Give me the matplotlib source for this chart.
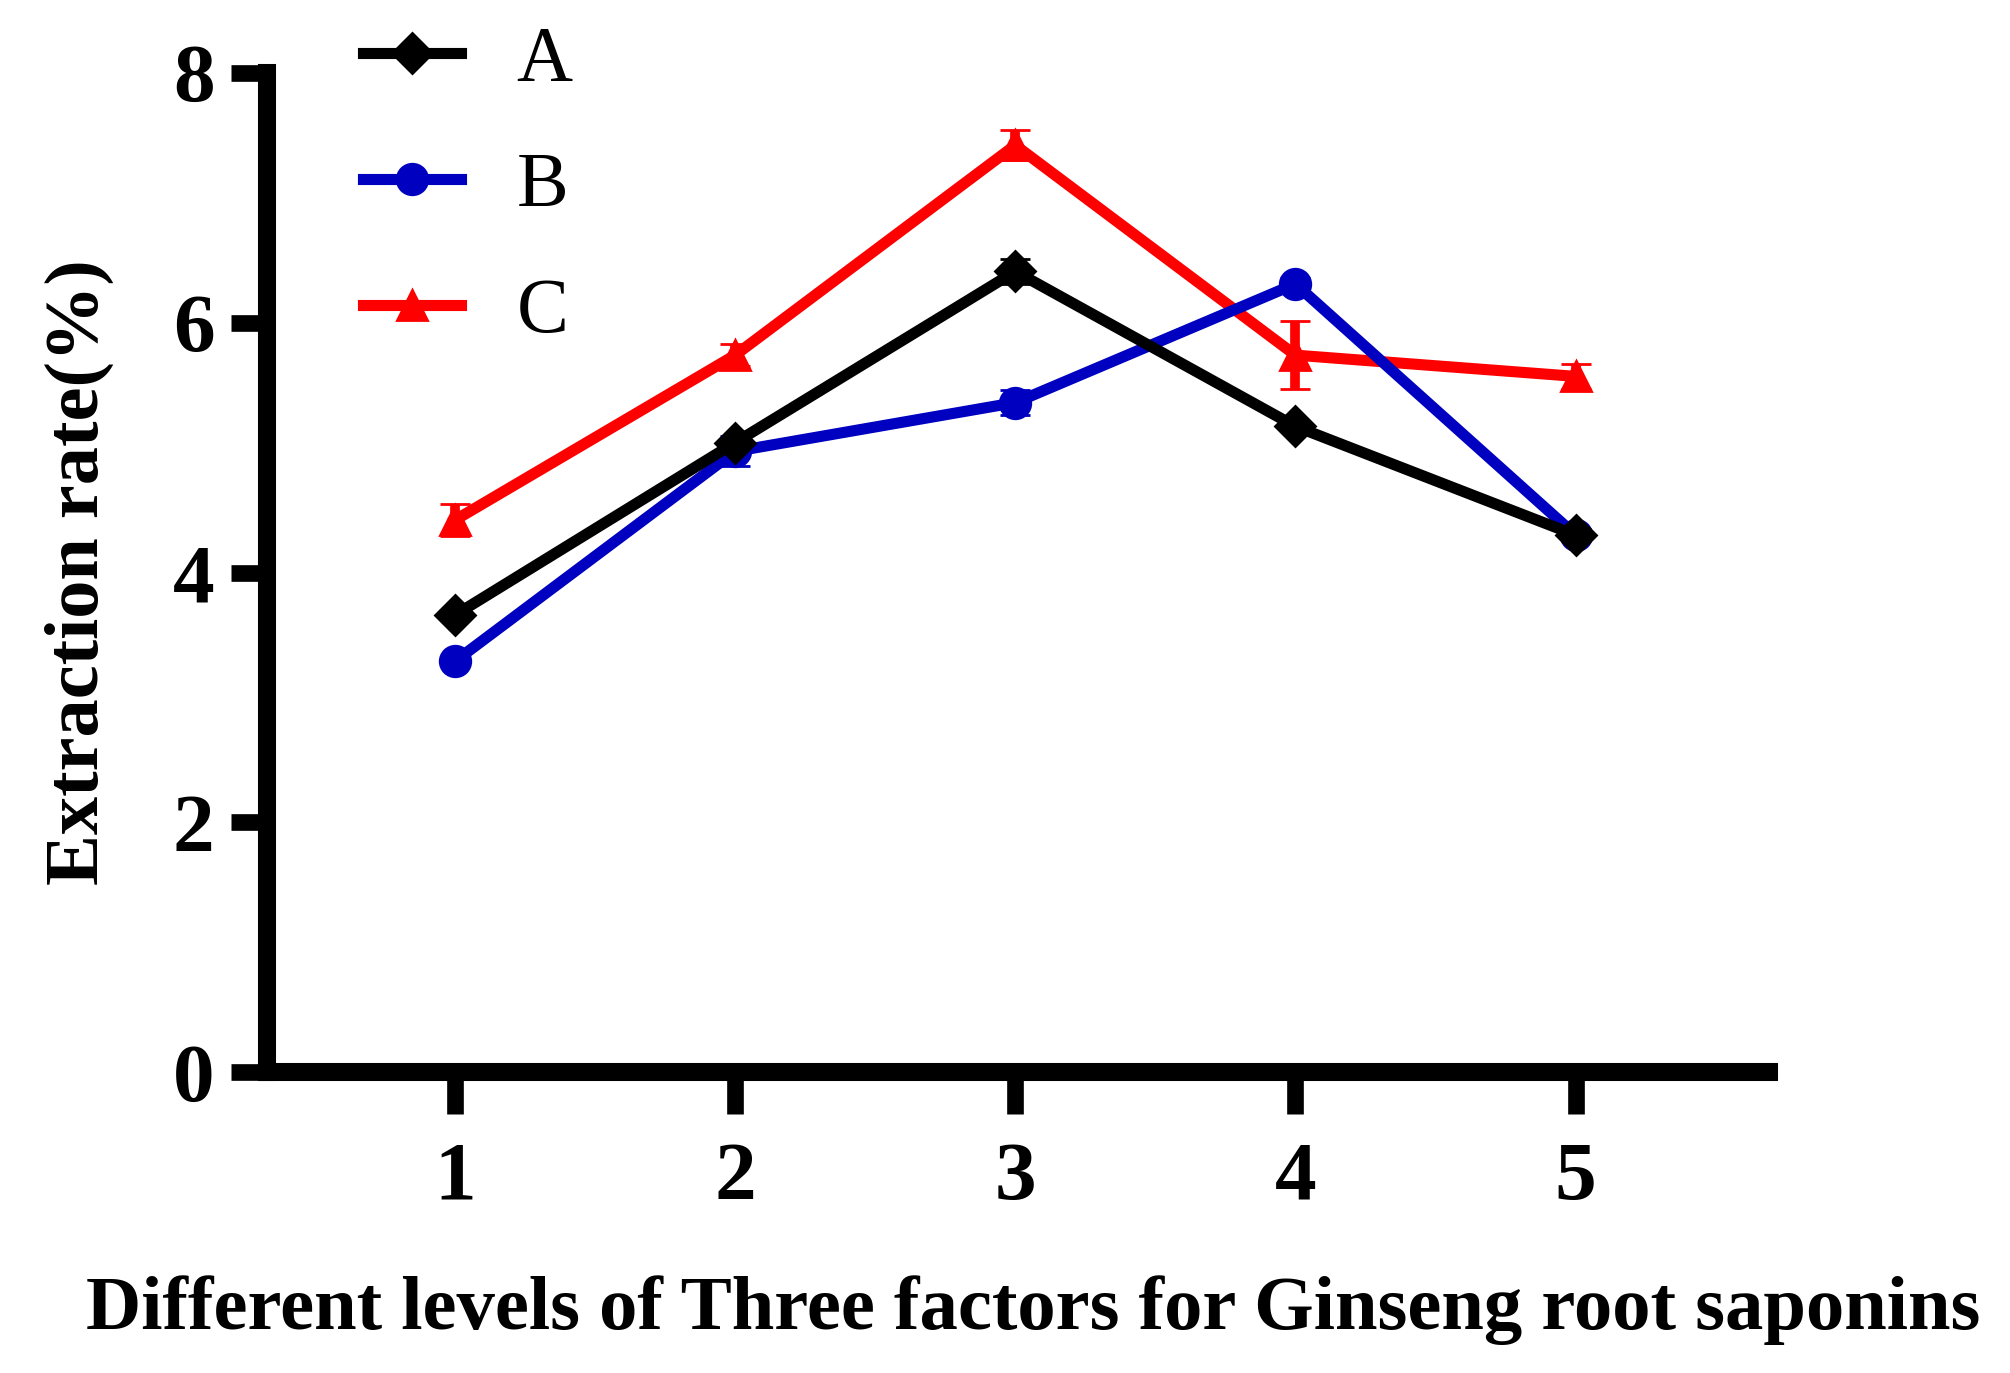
import matplotlib
matplotlib.use("Agg")
import matplotlib.pyplot as plt

# Data
levels = [1, 2, 3, 4, 5]

a_vals = [3.66, 5.04, 6.41, 5.17, 4.30]
a_err = [0.03, 0.04, 0.10, 0.04, 0.03]

b_vals = [3.29, 4.97, 5.36, 6.31, 4.30]
b_err = [0.03, 0.12, 0.10, 0.05, 0.05]

c_vals = [4.42, 5.74, 7.42, 5.74, 5.57]
c_err = [0.13, 0.09, 0.12, 0.27, 0.10]

series_names = ["A", "B", "C"]
y_ticks = [0, 2, 4, 6, 8]

plt.rcParams["font.family"] = ["Liberation Serif", "DejaVu Serif"]

fig = plt.figure(figsize=(10.05, 6.865), dpi=200)
ax = fig.add_axes([0.133, 0.219, 0.747, 0.728])

err_kw = dict(linewidth=4, elinewidth=3.5, capsize=5.5, capthick=3.5, markeredgewidth=1)

# draw C first so A ends up on top, as in the reference
hc = ax.errorbar(levels, c_vals, yerr=c_err, color="#ff0000", marker="^",
                 markersize=11, zorder=2, **err_kw)
hb = ax.errorbar(levels, b_vals, yerr=b_err, color="#0000c0", marker="o",
                 markersize=11, zorder=3, **err_kw)
ha = ax.errorbar(levels, a_vals, yerr=a_err, color="black", marker="D",
                 markersize=10, zorder=4, **err_kw)

ax.set_xlim(0.33, 5.69)
ax.set_ylim(0, 8)
ax.set_xticks(levels)
ax.set_yticks(y_ticks)

for side in ("top", "right"):
    ax.spines[side].set_visible(False)
for side in ("left", "bottom"):
    ax.spines[side].set_linewidth(6.5)

ax.tick_params(axis="both", width=6, length=13, labelsize=30, direction="out")
ax.tick_params(axis="x", length=15, pad=10)
ax.tick_params(axis="y", pad=6)
for lab in ax.get_xticklabels() + ax.get_yticklabels():
    lab.set_fontweight("bold")

ax.set_ylabel("Extraction rate(%)", fontsize=27.5, fontweight="bold", va="center")
ax.yaxis.set_label_coords(-0.125, 0.5)
ax.set_xlabel("Different levels of Three factors for Ginseng root saponins",
              fontsize=27.6, fontweight="bold", va="center")
ax.xaxis.set_label_coords(0.51, -0.238)

leg = ax.legend([ha[0], hb[0], hc[0]], series_names, loc="upper left",
                bbox_to_anchor=(0.064, 1.047), frameon=False, fontsize=28,
                borderpad=0, borderaxespad=0, handlelength=1.25,
                handletextpad=0.72, labelspacing=0.7)

fig.savefig("out.png", dpi=200)
